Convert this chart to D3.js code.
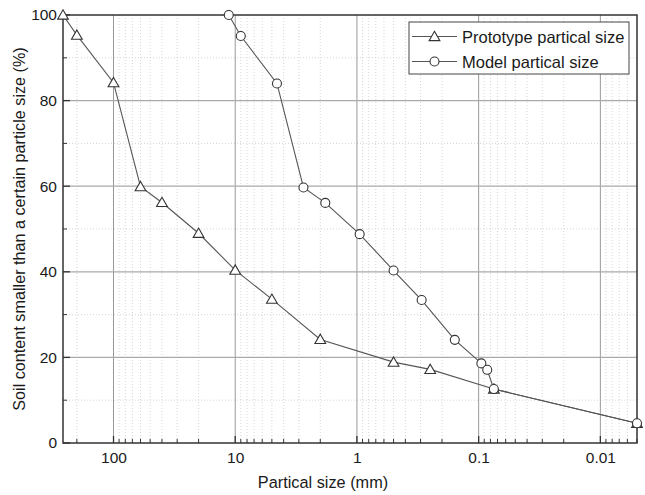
<!DOCTYPE html>
<html><head><meta charset="utf-8">
<script src="https://cdn.jsdelivr.net/npm/d3@7"></script>
<style>body{margin:0;background:#fff}svg{display:block}text{font-family:"Liberation Sans",Arial,sans-serif;fill:#1a1a1a}</style>
</head><body><svg id="c" width="645" height="495"></svg>
<script>
const protoSize = [260, 200, 100, 60, 40, 20, 10, 5, 2, 0.5, 0.25, 0.075, 0.005];
const protoPct  = [100, 95.3, 84.2, 59.9, 56.2, 49.0, 40.4, 33.6, 24.2, 18.9, 17.2, 12.6, 4.6];
const modelSize = [11.3, 9, 4.54, 2.75, 1.82, 0.95, 0.5, 0.294, 0.157, 0.095, 0.085, 0.075, 0.005];
const modelPct  = [100, 95.1, 84.0, 59.7, 56.1, 48.8, 40.3, 33.4, 24.1, 18.6, 17.1, 12.6, 4.6];
const xTickLabels = ["100", "10", "1", "0.1", "0.01"];
const xTickValues = [100, 10, 1, 0.1, 0.01];
const yTickValues = [0, 20, 40, 60, 80, 100];
const seriesNames = ["Prototype partical size", "Model partical size"];

const svg = d3.select("#c");
const L = 63, R = 637, T = 15, B = 443;
const x = d3.scaleLog().domain([260, 0.005]).range([L, R]);
const y = d3.scaleLinear().domain([0, 100]).range([B, T]);

const minorX = [];
for (let e = -3; e <= 2; e++) for (let m = 2; m <= 9; m++) {
  const v = m * Math.pow(10, e);
  if (v <= 260 && v >= 0.005) minorX.push(v);
}
const minorY = [10, 30, 50, 70, 90];

const g = svg.append("g");
g.selectAll(".mgx").data(minorX).enter().append("line")
  .attr("x1", d => x(d)).attr("x2", d => x(d)).attr("y1", T).attr("y2", B)
  .attr("stroke", "#ccc").attr("stroke-width", 0.8).attr("stroke-dasharray", "1,2");
g.selectAll(".mgy").data(minorY).enter().append("line")
  .attr("x1", L).attr("x2", R).attr("y1", d => y(d)).attr("y2", d => y(d))
  .attr("stroke", "#ccc").attr("stroke-width", 0.8).attr("stroke-dasharray", "1,2");
g.selectAll(".gx").data(xTickValues).enter().append("line")
  .attr("x1", d => x(d)).attr("x2", d => x(d)).attr("y1", T).attr("y2", B)
  .attr("stroke", "#999").attr("stroke-width", 1);
g.selectAll(".gy").data(yTickValues.slice(1, 5)).enter().append("line")
  .attr("x1", L).attr("x2", R).attr("y1", d => y(d)).attr("y2", d => y(d))
  .attr("stroke", "#aaa").attr("stroke-width", 1.2);

const xAxis = d3.axisBottom(x).tickValues(xTickValues).tickFormat((d, i) => xTickLabels[i]).tickSize(0).tickPadding(9);
const xa = svg.append("g").attr("transform", `translate(0,${B})`).call(xAxis);
xa.select(".domain").remove();
xa.selectAll("text").attr("font-size", 15.5).attr("font-family", "Liberation Sans, Arial, sans-serif").attr("fill", "#1a1a1a");
const yAxis = d3.axisLeft(y).tickValues(yTickValues).tickSize(0).tickPadding(6);
const ya = svg.append("g").attr("transform", `translate(${L},0)`).call(yAxis);
ya.select(".domain").remove();
ya.selectAll("text").attr("font-size", 15.5).attr("font-family", "Liberation Sans, Arial, sans-serif").attr("fill", "#1a1a1a");

svg.selectAll(".tx").data(xTickValues).enter().append("line")
  .attr("x1", d => x(d)).attr("x2", d => x(d)).attr("y1", B).attr("y2", B - 7).attr("stroke", "#333").attr("stroke-width", 1.3);
svg.selectAll(".mtx").data(minorX).enter().append("line")
  .attr("x1", d => x(d)).attr("x2", d => x(d)).attr("y1", B).attr("y2", B - 4).attr("stroke", "#333").attr("stroke-width", 1);
svg.selectAll(".ty").data(yTickValues).enter().append("line")
  .attr("x1", L).attr("x2", L + 7).attr("y1", d => y(d)).attr("y2", d => y(d)).attr("stroke", "#333").attr("stroke-width", 1.3);
svg.selectAll(".mty").data(minorY).enter().append("line")
  .attr("x1", L).attr("x2", L + 4).attr("y1", d => y(d)).attr("y2", d => y(d)).attr("stroke", "#333").attr("stroke-width", 1);

svg.append("rect").attr("x", L).attr("y", T).attr("width", R - L).attr("height", B - T)
  .attr("fill", "none").attr("stroke", "#333").attr("stroke-width", 1.5);

svg.append("text").attr("x", 323).attr("y", 488).attr("text-anchor", "middle").attr("font-size", 16.3).text("Partical size (mm)");
svg.append("text").attr("transform", `translate(25,229) rotate(-90)`).attr("text-anchor", "middle").attr("font-size", 16.2)
  .text("Soil content smaller than a certain particle size (%)");

const proto = protoSize.map((s, i) => ({ s, p: protoPct[i] }));
const model = modelSize.map((s, i) => ({ s, p: modelPct[i] }));
const line = d3.line().x(d => x(d.s)).y(d => y(d.p));
svg.append("path").datum(proto).attr("d", line).attr("fill", "none").attr("stroke", "#555").attr("stroke-width", 1.1);
svg.append("path").datum(model).attr("d", line).attr("fill", "none").attr("stroke", "#555").attr("stroke-width", 1.1);

const tri = d3.symbol().type(d3.symbolTriangle).size(50);
svg.selectAll(".pt").data(proto).enter().append("path")
  .attr("d", tri).attr("transform", d => `translate(${x(d.s)},${y(d.p) + 1})`)
  .attr("fill", "#fff").attr("stroke", "#333").attr("stroke-width", 1.1);
svg.selectAll(".mc").data(model).enter().append("circle")
  .attr("cx", d => x(d.s)).attr("cy", d => y(d.p)).attr("r", 4.5)
  .attr("fill", "#fff").attr("stroke", "#333").attr("stroke-width", 1.1);

const lg = svg.append("g");
lg.append("rect").attr("x", 409).attr("y", 22).attr("width", 220).attr("height", 52)
  .attr("fill", "#fff").attr("stroke", "#444").attr("stroke-width", 1);
const rows = [36.5, 61.5];
rows.forEach((ry, i) => {
  lg.append("line").attr("x1", 412).attr("x2", 457).attr("y1", ry).attr("y2", ry).attr("stroke", "#555").attr("stroke-width", 1.1);
  if (i === 0) lg.append("path").attr("d", tri).attr("transform", `translate(434.5,${ry + 1})`).attr("fill", "#fff").attr("stroke", "#333").attr("stroke-width", 1.1);
  else lg.append("circle").attr("cx", 434.5).attr("cy", ry).attr("r", 4.5).attr("fill", "#fff").attr("stroke", "#333").attr("stroke-width", 1.1);
  lg.append("text").attr("x", 462).attr("y", ry + 6).attr("font-size", 16.5).text(seriesNames[i]);
});
</script></body></html>
